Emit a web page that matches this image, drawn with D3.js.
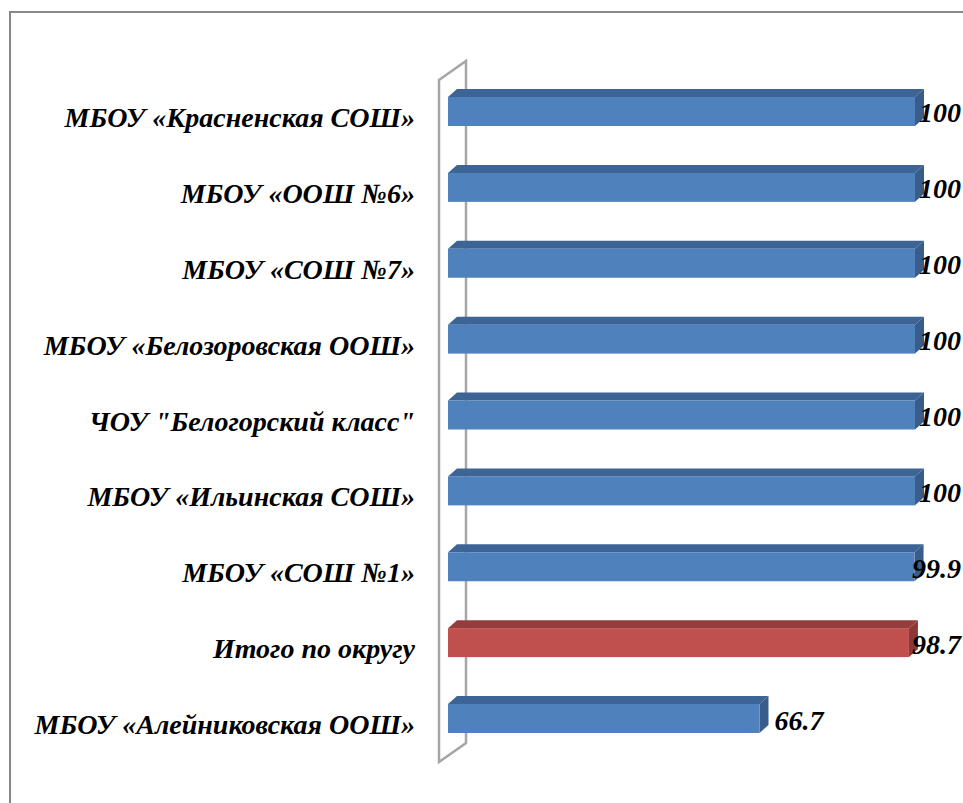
<!DOCTYPE html>
<html><head><meta charset="utf-8">
<script src="https://cdn.jsdelivr.net/npm/d3@7"></script>
<style>body{margin:0;background:#fff;}svg{display:block;}</style>
</head><body>
<svg id="c" width="963" height="803"></svg>
<script>
const categories = ["МБОУ «Красненская СОШ»","МБОУ «ООШ №6»","МБОУ «СОШ №7»","МБОУ «Белозоровская ООШ»","ЧОУ \"Белогорский класс\"","МБОУ «Ильинская СОШ»","МБОУ «СОШ №1»","Итого по округу","МБОУ «Алейниковская ООШ»"];
const values = [100,100,100,100,100,100,99.9,98.7,66.7];
const highlight = [false,false,false,false,false,false,false,true,false];
const valueLabels = ["100","100","100","100","100","100","99.9","98.7","66.7"];

const svg = d3.select("#c");
svg.append("rect").attr("x",10).attr("y",12).attr("width",1100).attr("height",1100)
  .attr("fill","none").attr("stroke","#888").attr("stroke-width",2);

const x = d3.scaleLinear().domain([0,100]).range([448,915]);
const y = d3.scaleBand().domain(categories).range([73.56,756.44]).paddingInner(0.618).paddingOuter(0.309);
const dx = 9, dy = -8;

// wall
svg.append("path").attr("d","M439,80 L466,61 L466,743 L439,762 Z")
  .attr("fill","none").attr("stroke","#A6A6A6").attr("stroke-width",2.5);

const col = {blue:{f:"#4F81BD",t:"#3C6494",s:"#385D8A"}, red:{f:"#C0504D",t:"#933E3C",s:"#8C3836"}};
const font = "'Liberation Serif','Times New Roman',serif";
const g = svg.append("g");
categories.forEach((c,i)=>{
  const cc = highlight[i]?col.red:col.blue;
  const x0 = x(0), x1 = x(values[i]), y0 = y(c), h = y.bandwidth();
  g.append("path").attr("d",`M${x0},${y0} L${x0+dx},${y0+dy} L${x1+dx},${y0+dy} L${x1},${y0} Z`).attr("fill",cc.t);
  g.append("path").attr("d",`M${x1},${y0} L${x1+dx},${y0+dy} L${x1+dx},${y0+h+dy} L${x1},${y0+h} Z`).attr("fill",cc.s);
  g.append("rect").attr("x",x0).attr("y",y0).attr("width",x1-x0).attr("height",h).attr("fill",cc.f);
  svg.append("text").attr("x",415).attr("y",y0+h/2+15.5).attr("text-anchor","end")
    .style("font-family",font).style("font-weight","bold").style("font-style","italic")
    .style("font-size","28px").attr("fill","#000").text(c);
  const t = svg.append("text").attr("y",y0+h/2+11)
    .style("font-family",font).style("font-weight","bold").style("font-style","italic")
    .style("font-size","28px").attr("fill","#000").text(valueLabels[i]);
  const w = t.node().getComputedTextLength();
  t.attr("x", Math.min(x1+15, 961-w));
});
</script>
</body></html>
